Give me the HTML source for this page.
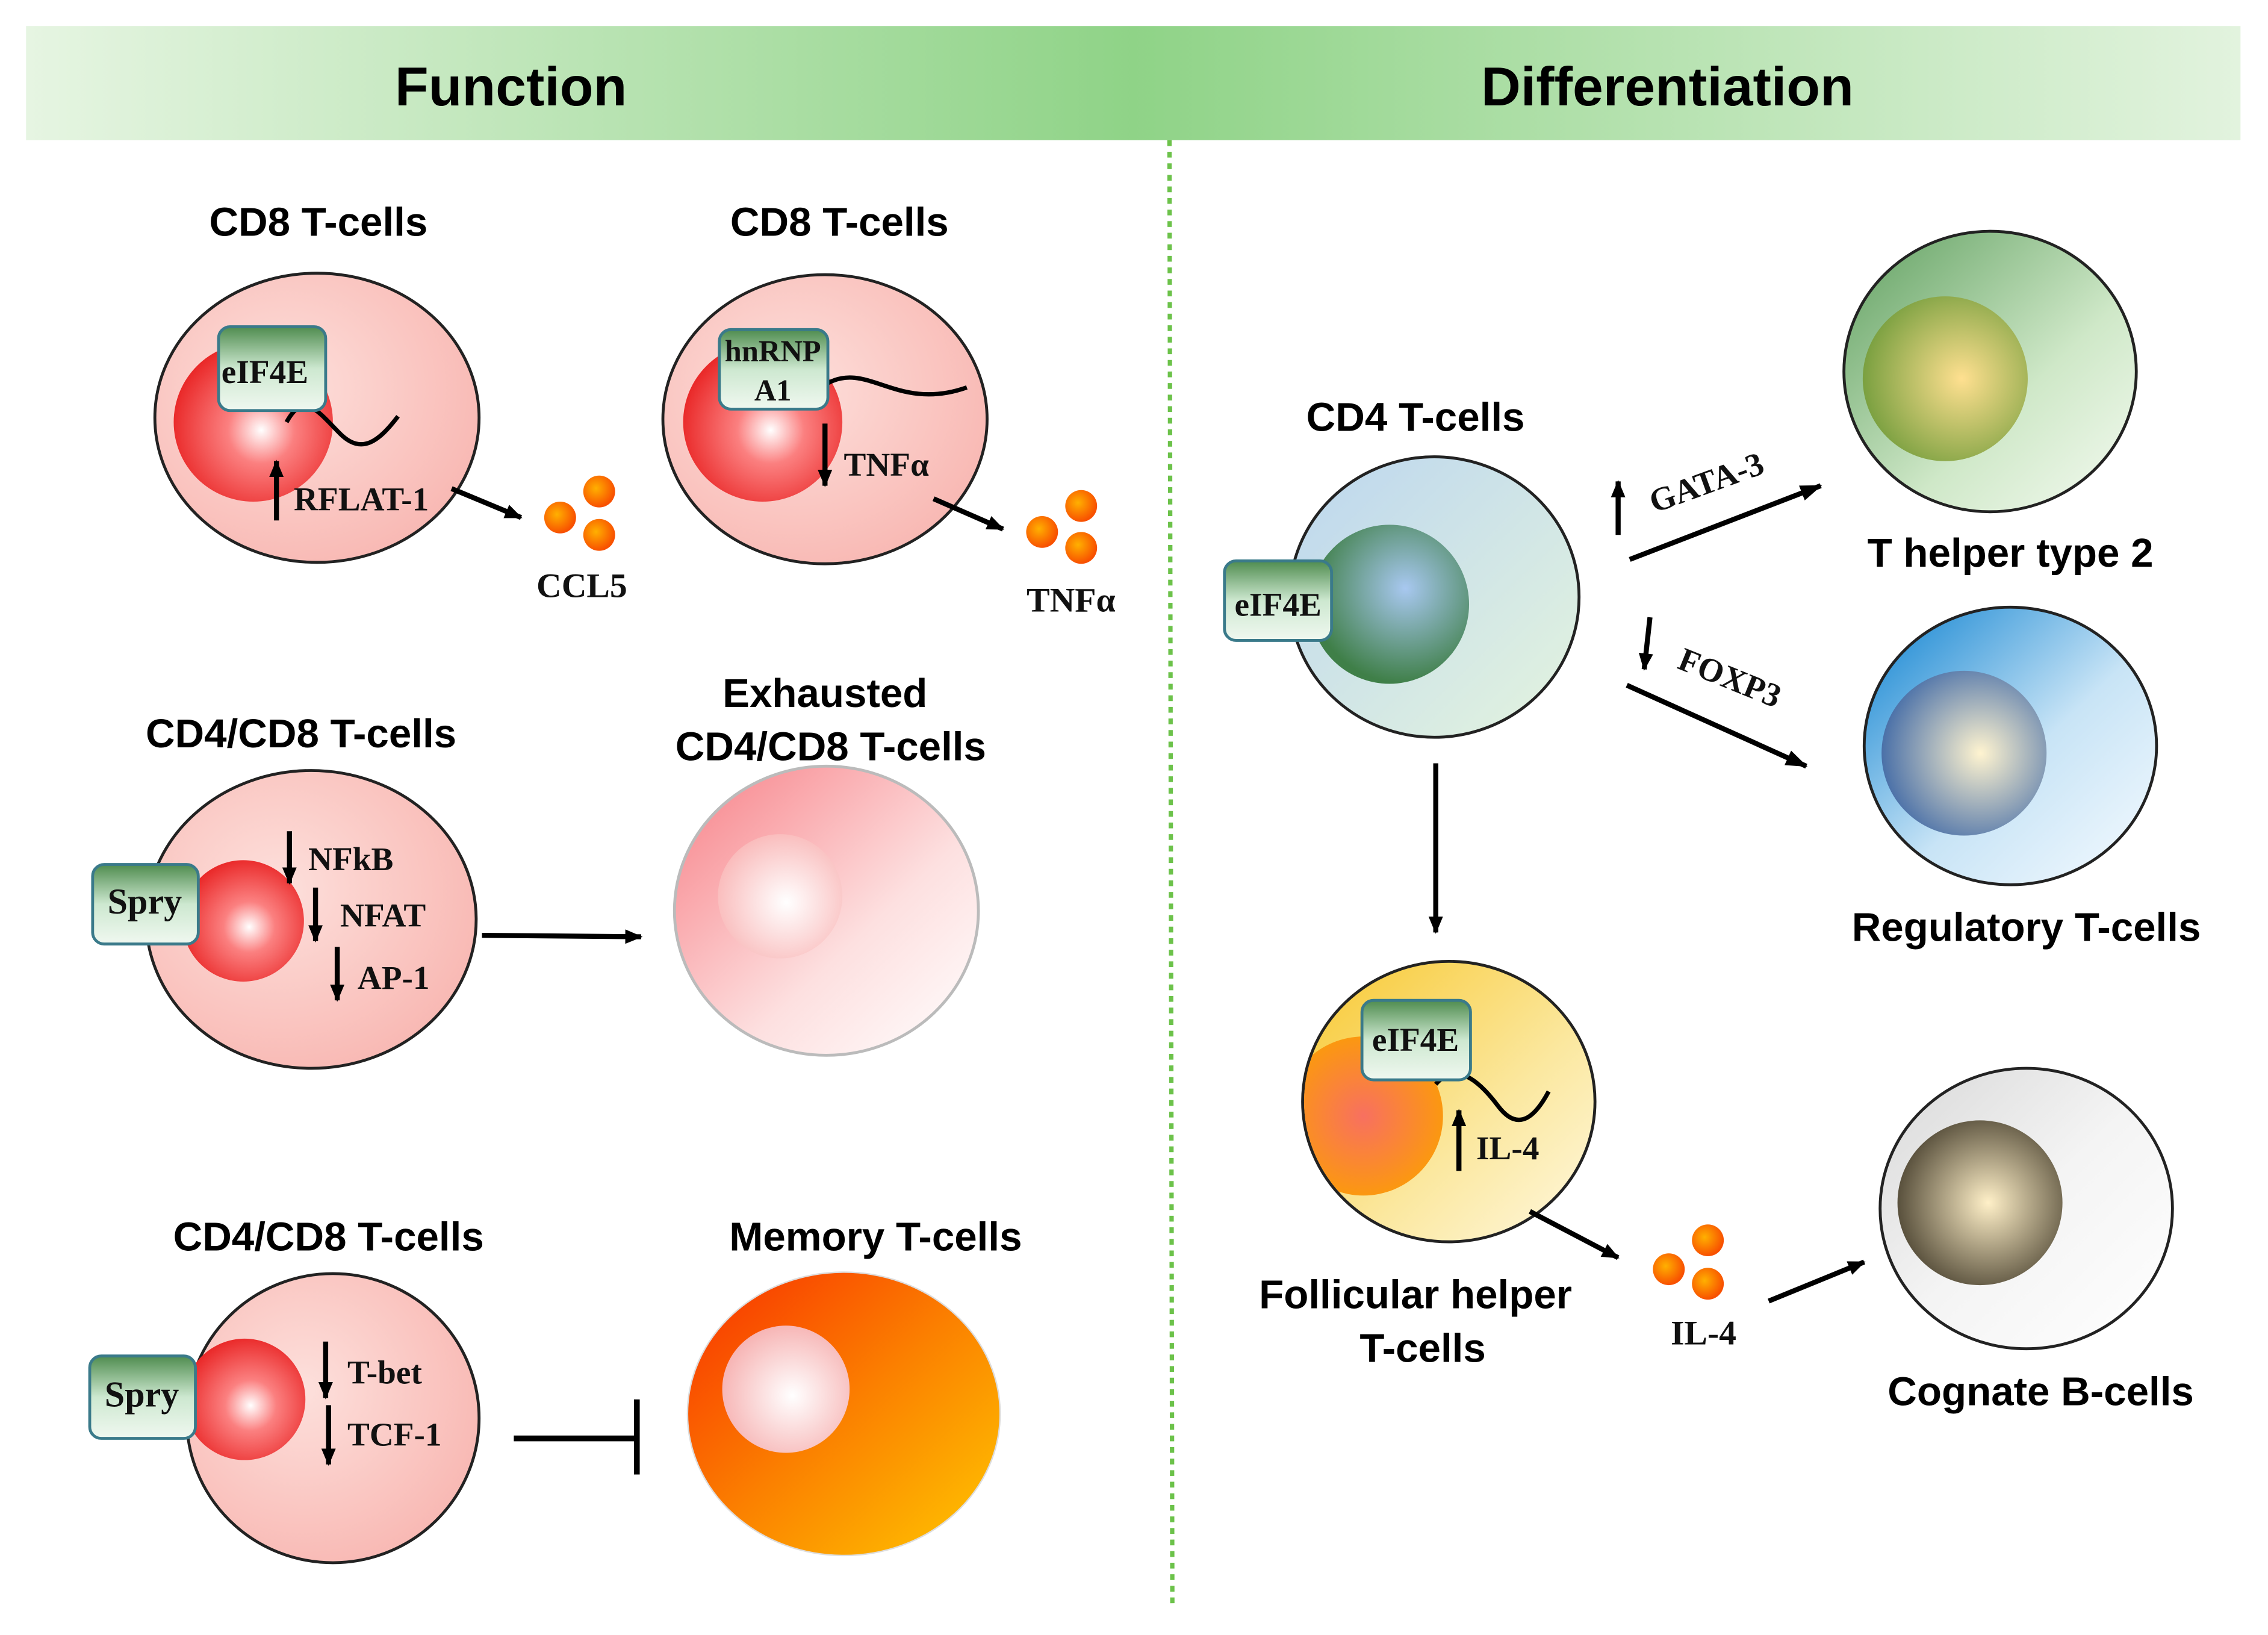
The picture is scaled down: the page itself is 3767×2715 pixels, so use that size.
<!DOCTYPE html>
<html><head><meta charset="utf-8"><style>
html,body{margin:0;padding:0;background:#fff;}
svg{display:block;}
.t{font-family:"Liberation Sans",sans-serif;font-weight:bold;font-size:28px;fill:#000;text-anchor:middle;}
.l{font-family:"Liberation Serif",serif;font-weight:bold;font-size:23px;fill:#111;}
.b{font-family:"Liberation Serif",serif;font-weight:bold;font-size:24px;fill:#111;text-anchor:middle;}
</style></head><body>
<svg width="3767" height="2715" viewBox="0 0 1567 1131" preserveAspectRatio="none" xmlns="http://www.w3.org/2000/svg">
<defs>
<linearGradient id="hdr" x1="0" x2="1" y1="0" y2="0">
<stop offset="0" stop-color="#e6f5e2"/><stop offset="0.5" stop-color="#8fd387"/><stop offset="1" stop-color="#e2f3de"/></linearGradient>
<radialGradient id="pinkc" cx="0.4" cy="0.4" r="0.7"><stop offset="0" stop-color="#fde0dc"/><stop offset="1" stop-color="#f8b5b0"/></radialGradient>
<radialGradient id="rednuc" cx="0.55" cy="0.55" r="0.6"><stop offset="0" stop-color="#fff"/><stop offset="0.35" stop-color="#fb8080"/><stop offset="1" stop-color="#e82020"/></radialGradient>
<linearGradient id="exh" x1="0" y1="0" x2="1" y2="1"><stop offset="0" stop-color="#f77f86"/><stop offset="0.6" stop-color="#fde0e0"/><stop offset="1" stop-color="#fff"/></linearGradient>
<radialGradient id="exhn" cx="0.55" cy="0.55" r="0.6"><stop offset="0" stop-color="#fff"/><stop offset="1" stop-color="#f9b8b8"/></radialGradient>
<linearGradient id="mem" x1="0" y1="0" x2="1" y2="1"><stop offset="0" stop-color="#f83000"/><stop offset="0.5" stop-color="#fb8000"/><stop offset="1" stop-color="#ffc800"/></linearGradient>
<radialGradient id="memn" cx="0.55" cy="0.55" r="0.6"><stop offset="0" stop-color="#fff"/><stop offset="1" stop-color="#f6b0b0"/></radialGradient>
<linearGradient id="box" x1="0" y1="0" x2="0" y2="1"><stop offset="0" stop-color="#4f8c4f"/><stop offset="0.5" stop-color="#cde8d0"/><stop offset="1" stop-color="#f0f8f0"/></linearGradient>
<linearGradient id="cd4" x1="0" y1="0" x2="1" y2="1"><stop offset="0" stop-color="#bcd6ef"/><stop offset="1" stop-color="#e4f4de"/></linearGradient>
<radialGradient id="cd4n" cx="0.6" cy="0.4" r="0.6"><stop offset="0" stop-color="#a8c8f0"/><stop offset="1" stop-color="#3f7f48"/></radialGradient>
<linearGradient id="th2" x1="0" y1="0" x2="1" y2="1"><stop offset="0" stop-color="#5f9f5f"/><stop offset="0.6" stop-color="#cfe8c8"/><stop offset="1" stop-color="#f5fbf2"/></linearGradient>
<radialGradient id="th2n" cx="0.6" cy="0.5" r="0.6"><stop offset="0" stop-color="#ffe090"/><stop offset="1" stop-color="#7aa040"/></radialGradient>
<linearGradient id="treg" x1="0" y1="0" x2="1" y2="1"><stop offset="0" stop-color="#0a80d0"/><stop offset="0.55" stop-color="#c8e4f6"/><stop offset="1" stop-color="#f6fbff"/></linearGradient>
<radialGradient id="tregn" cx="0.6" cy="0.5" r="0.6"><stop offset="0" stop-color="#fff4d0"/><stop offset="1" stop-color="#4a70a8"/></radialGradient>
<linearGradient id="tfh" x1="0" y1="0" x2="1" y2="1"><stop offset="0" stop-color="#f8c830"/><stop offset="0.6" stop-color="#fbe8a0"/><stop offset="1" stop-color="#fff8e0"/></linearGradient>
<radialGradient id="tfhn" cx="0.5" cy="0.5" r="0.6"><stop offset="0" stop-color="#f87060"/><stop offset="1" stop-color="#fca000"/></radialGradient>
<linearGradient id="bc" x1="0" y1="0" x2="1" y2="1"><stop offset="0" stop-color="#d8d8d8"/><stop offset="0.5" stop-color="#f4f4f4"/><stop offset="1" stop-color="#fff"/></linearGradient>
<radialGradient id="bcn" cx="0.55" cy="0.5" r="0.6"><stop offset="0" stop-color="#fff0c8"/><stop offset="1" stop-color="#4a4230"/></radialGradient>
<radialGradient id="dot" cx="0.4" cy="0.4" r="0.6"><stop offset="0" stop-color="#ffb000"/><stop offset="1" stop-color="#f85000"/></radialGradient>
<clipPath id="tfhclip"><ellipse cx="1001" cy="762" rx="100" ry="96"/></clipPath>
<marker id="ah" markerWidth="12" markerHeight="10" refX="11" refY="5" orient="auto" markerUnits="userSpaceOnUse"><path d="M0,0 L12,5 L0,10 z" fill="#000"/></marker>
<marker id="ah2" markerWidth="15" markerHeight="11" refX="14" refY="5.5" orient="auto" markerUnits="userSpaceOnUse"><path d="M0,0 L15,5.5 L0,11 z" fill="#000"/></marker>
</defs>

<rect x="18" y="18" width="1530" height="79" fill="url(#hdr)"/>
<text class="t" x="353" y="73" style="font-size:38px">Function</text>
<text class="t" x="1152" y="73" style="font-size:38px">Differentiation</text>
<line x1="808" y1="97" x2="810" y2="1112" stroke="#6cc24a" stroke-width="3" stroke-dasharray="4,4"/>

<!-- cell 1 -->
<text class="t" x="220" y="163">CD8 T-cells</text>
<ellipse cx="219" cy="289" rx="112" ry="100" fill="url(#pinkc)" stroke="#222" stroke-width="2"/>
<circle cx="175" cy="292" r="55" fill="url(#rednuc)"/>
<path d="M198,292 C210,270 220,285 235,300 C250,315 262,305 275,288" fill="none" stroke="#000" stroke-width="3"/>
<rect x="151" y="226" width="74" height="58" rx="8" fill="url(#box)" stroke="#3a7a8a" stroke-width="2"/>
<text class="l" x="153" y="265">eIF4E</text>
<line x1="191" y1="360" x2="191" y2="319" stroke="#000" stroke-width="3.5" marker-end="url(#ah)"/>
<text class="l" x="203" y="353">RFLAT-1</text>
<line x1="312" y1="338" x2="360" y2="358" stroke="#000" stroke-width="3.5" marker-end="url(#ah)"/>
<circle cx="387" cy="358" r="11" fill="url(#dot)"/><circle cx="414" cy="340" r="11" fill="url(#dot)"/><circle cx="414" cy="370" r="11" fill="url(#dot)"/>
<text class="b" x="402" y="413">CCL5</text>

<!-- cell 2 -->
<text class="t" x="580" y="163">CD8 T-cells</text>
<ellipse cx="570" cy="290" rx="112" ry="100" fill="url(#pinkc)" stroke="#222" stroke-width="2"/>
<circle cx="527" cy="292" r="55" fill="url(#rednuc)"/>
<path d="M572,265 C600,250 620,285 668,268" fill="none" stroke="#000" stroke-width="3"/>
<rect x="497" y="228" width="75" height="55" rx="8" fill="url(#box)" stroke="#3a7a8a" stroke-width="2"/>
<text class="l" x="534" y="250" text-anchor="middle" style="font-size:21px">hnRNP</text>
<text class="l" x="534" y="277" text-anchor="middle" style="font-size:21px">A1</text>
<line x1="570" y1="293" x2="570" y2="336" stroke="#000" stroke-width="3.5" marker-end="url(#ah)"/>
<text class="l" x="583" y="329">TNFα</text>
<line x1="645" y1="345" x2="693" y2="366" stroke="#000" stroke-width="3.5" marker-end="url(#ah)"/>
<circle cx="720" cy="368" r="11" fill="url(#dot)"/><circle cx="747" cy="350" r="11" fill="url(#dot)"/><circle cx="747" cy="379" r="11" fill="url(#dot)"/>
<text class="b" x="740" y="423">TNFα</text>

<!-- cell 3 -->
<text class="t" x="208" y="517">CD4/CD8 T-cells</text>
<ellipse cx="215" cy="636" rx="114" ry="103" fill="url(#pinkc)" stroke="#222" stroke-width="2"/>
<circle cx="168" cy="637" r="42" fill="url(#rednuc)"/>
<rect x="64" y="598" width="73" height="55" rx="8" fill="url(#box)" stroke="#3a7a8a" stroke-width="2"/>
<text class="l" x="100" y="632" text-anchor="middle" style="font-size:25px">Spry</text>
<line x1="200" y1="575" x2="200" y2="611" stroke="#000" stroke-width="3.5" marker-end="url(#ah)"/>
<text class="l" x="213" y="602">NFkB</text>
<line x1="218" y1="614" x2="218" y2="651" stroke="#000" stroke-width="3.5" marker-end="url(#ah)"/>
<text class="l" x="235" y="641">NFAT</text>
<line x1="233" y1="655" x2="233" y2="692" stroke="#000" stroke-width="3.5" marker-end="url(#ah)"/>
<text class="l" x="247" y="684">AP-1</text>
<line x1="333" y1="647" x2="443" y2="648" stroke="#000" stroke-width="3.5" marker-end="url(#ah)"/>

<!-- cell 4 -->
<text class="t" x="570" y="489">Exhausted</text>
<text class="t" x="574" y="526">CD4/CD8 T-cells</text>
<ellipse cx="571" cy="630" rx="105" ry="100" fill="url(#exh)" stroke="#bbb" stroke-width="2"/>
<circle cx="539" cy="620" r="43" fill="url(#exhn)"/>

<!-- cell 5 -->
<text class="t" x="227" y="865">CD4/CD8 T-cells</text>
<ellipse cx="230" cy="981" rx="101" ry="100" fill="url(#pinkc)" stroke="#222" stroke-width="2"/>
<circle cx="169" cy="968" r="42" fill="url(#rednuc)"/>
<rect x="62" y="938" width="73" height="57" rx="8" fill="url(#box)" stroke="#3a7a8a" stroke-width="2"/>
<text class="l" x="98" y="973" text-anchor="middle" style="font-size:25px">Spry</text>
<line x1="225" y1="928" x2="225" y2="967" stroke="#000" stroke-width="3.5" marker-end="url(#ah)"/>
<text class="l" x="240" y="957">T-bet</text>
<line x1="227" y1="972" x2="227" y2="1013" stroke="#000" stroke-width="3.5" marker-end="url(#ah)"/>
<text class="l" x="240" y="1000">TCF-1</text>
<line x1="355" y1="995" x2="440" y2="995" stroke="#000" stroke-width="4"/>
<line x1="440" y1="968" x2="440" y2="1020" stroke="#000" stroke-width="4"/>

<!-- cell 6 -->
<text class="t" x="605" y="865">Memory T-cells</text>
<ellipse cx="583" cy="978" rx="108" ry="98" fill="url(#mem)" stroke="#ddd" stroke-width="1"/>
<circle cx="543" cy="961" r="44" fill="url(#memn)"/>

<!-- CD4 -->
<text class="t" x="978" y="298">CD4 T-cells</text>
<ellipse cx="991" cy="413" rx="100" ry="97" fill="url(#cd4)" stroke="#222" stroke-width="2"/>
<circle cx="960" cy="418" r="55" fill="url(#cd4n)"/>
<rect x="846" y="388" width="74" height="55" rx="8" fill="url(#box)" stroke="#3a7a8a" stroke-width="2"/>
<text class="l" x="883" y="426" text-anchor="middle">eIF4E</text>
<line x1="1118" y1="370" x2="1118" y2="333" stroke="#000" stroke-width="3.5" marker-end="url(#ah)"/>
<text class="l" x="1143" y="355" transform="rotate(-20 1143 355)">GATA-3</text>
<line x1="1126" y1="387" x2="1258" y2="336" stroke="#000" stroke-width="3.5" marker-end="url(#ah2)"/>
<line x1="1140" y1="427" x2="1136" y2="463" stroke="#000" stroke-width="3.5" marker-end="url(#ah)"/>
<text class="l" x="1158" y="462" transform="rotate(22 1158 462)">FOXP3</text>
<line x1="1124" y1="474" x2="1248" y2="530" stroke="#000" stroke-width="3.5" marker-end="url(#ah2)"/>

<!-- Th2 -->
<ellipse cx="1375" cy="257" rx="101" ry="97" fill="url(#th2)" stroke="#222" stroke-width="2"/>
<circle cx="1344" cy="262" r="57" fill="url(#th2n)"/>
<text class="t" x="1389" y="392">T helper type 2</text>

<!-- Treg -->
<ellipse cx="1389" cy="516" rx="101" ry="96" fill="url(#treg)" stroke="#222" stroke-width="2"/>
<circle cx="1357" cy="521" r="57" fill="url(#tregn)"/>
<text class="t" x="1400" y="651">Regulatory T-cells</text>

<line x1="992" y1="528" x2="992" y2="645" stroke="#000" stroke-width="3.5" marker-end="url(#ah)"/>

<!-- Tfh -->
<ellipse cx="1001" cy="762" rx="101" ry="97" fill="url(#tfh)" stroke="#222" stroke-width="2"/>
<circle cx="942" cy="772" r="55" fill="url(#tfhn)" clip-path="url(#tfhclip)"/>
<path d="M992,750 C1005,735 1020,745 1035,765 C1050,785 1062,770 1070,755" fill="none" stroke="#000" stroke-width="3"/>
<rect x="941" y="692" width="75" height="55" rx="8" fill="url(#box)" stroke="#3a7a8a" stroke-width="2"/>
<text class="l" x="978" y="727" text-anchor="middle">eIF4E</text>
<line x1="1008" y1="810" x2="1008" y2="768" stroke="#000" stroke-width="3.5" marker-end="url(#ah)"/>
<text class="l" x="1020" y="802">IL-4</text>
<line x1="1057" y1="838" x2="1118" y2="870" stroke="#000" stroke-width="3.5" marker-end="url(#ah)"/>
<text class="t" x="978" y="905">Follicular helper</text>
<text class="t" x="983" y="942">T-cells</text>
<circle cx="1153" cy="878" r="11" fill="url(#dot)"/><circle cx="1180" cy="858" r="11" fill="url(#dot)"/><circle cx="1180" cy="888" r="11" fill="url(#dot)"/>
<text class="b" x="1177" y="930">IL-4</text>
<line x1="1222" y1="900" x2="1288" y2="873" stroke="#000" stroke-width="3.5" marker-end="url(#ah)"/>

<!-- B cell -->
<ellipse cx="1400" cy="836" rx="101" ry="97" fill="url(#bc)" stroke="#222" stroke-width="2"/>
<circle cx="1368" cy="832" r="57" fill="url(#bcn)"/>
<text class="t" x="1410" y="972">Cognate B-cells</text>
</svg>
</body></html>
